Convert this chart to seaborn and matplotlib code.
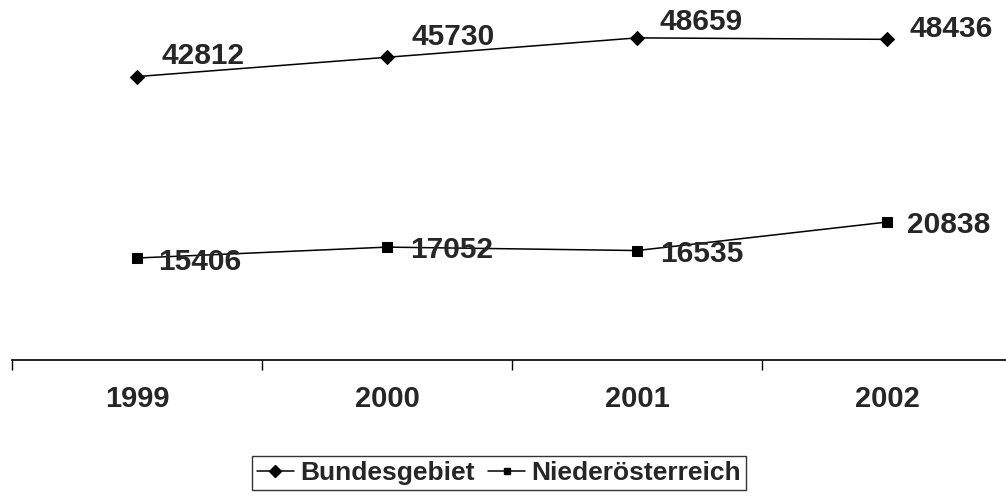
import matplotlib
matplotlib.use("Agg")
import matplotlib.pyplot as plt
import seaborn as sns
import pandas as pd
from matplotlib.lines import Line2D

years = ["1999", "2000", "2001", "2002"]
bundesgebiet = [42812, 45730, 48659, 48436]
niederoesterreich = [15406, 17052, 16535, 20838]
series_names = ["Bundesgebiet", "Niederösterreich"]

df = pd.DataFrame({
    "Jahr": years * 2,
    "Wert": bundesgebiet + niederoesterreich,
    "Serie": [series_names[0]] * 4 + [series_names[1]] * 4,
})

sns.set_theme(style="white")
plt.rcParams["font.family"] = ["Liberation Sans", "DejaVu Sans"]
plt.rcParams["font.weight"] = "bold"

fig = plt.figure(figsize=(10.06, 4.96), dpi=100)
ax = fig.add_axes([12 / 1006, 136 / 496, 1000 / 1006, 331 / 496])

sns.lineplot(data=df, x="Jahr", y="Wert", hue="Serie", style="Serie",
             markers={"Bundesgebiet": "D", "Niederösterreich": "s"},
             dashes=False, palette=["black", "black"], linewidth=1.1,
             markersize=7, markeredgecolor="black", legend=False, ax=ax,
             sort=False)

ax.set_xlim(-0.5, 3.5)
ax.set_ylim(0, 50000)
ax.set_xlabel("")
ax.set_ylabel("")
ax.set_yticks([])
for s in ["left", "top", "right"]:
    ax.spines[s].set_visible(False)
ax.spines["bottom"].set_color("black")
ax.spines["bottom"].set_linewidth(1.2)

# tick marks at category boundaries, labels at category centres
ax.set_xticks([-0.5, 0.5, 1.5, 2.5, 3.5])
ax.set_xticklabels([])
ax.tick_params(axis="x", which="major", direction="out", length=7,
               width=1, color="black", bottom=True)
ax.set_xticks(range(len(years)), minor=True)
ax.set_xticklabels(years, minor=True, fontsize=21, fontweight="bold")
ax.tick_params(axis="x", which="minor", length=0, pad=18)

# data labels
offs_b = [(24, 21), (24, 20), (23, 16), (23, 10)]
offs_n = [(21, -4), (23, -3), (23, -3), (20, -3)]
for i, (v, o) in enumerate(zip(bundesgebiet, offs_b)):
    ax.annotate(str(v), (i, v), xytext=o, textcoords="offset pixels",
                ha="left", va="center", fontsize=21.5, fontweight="bold",
                annotation_clip=False)
for i, (v, o) in enumerate(zip(niederoesterreich, offs_n)):
    ax.annotate(str(v), (i, v), xytext=o, textcoords="offset pixels",
                ha="left", va="center", fontsize=21.5, fontweight="bold",
                annotation_clip=False)

handles = [
    Line2D([], [], color="black", marker="D", markersize=6, linewidth=1.1),
    Line2D([], [], color="black", marker="s", markersize=5, linewidth=1.1),
]
leg = fig.legend(handles, series_names, loc="center",
                 bbox_to_anchor=(499 / 1006, 1 - 473 / 496),
                 ncol=2, frameon=True, fancybox=False,
                 prop={"weight": "bold", "size": 19},
                 handlelength=1.4, handletextpad=0.25, columnspacing=0.5,
                 borderpad=0.2, borderaxespad=0)
leg.get_frame().set_edgecolor("black")
leg.get_frame().set_linewidth(1.0)

fig.savefig("out.png", dpi=100)
